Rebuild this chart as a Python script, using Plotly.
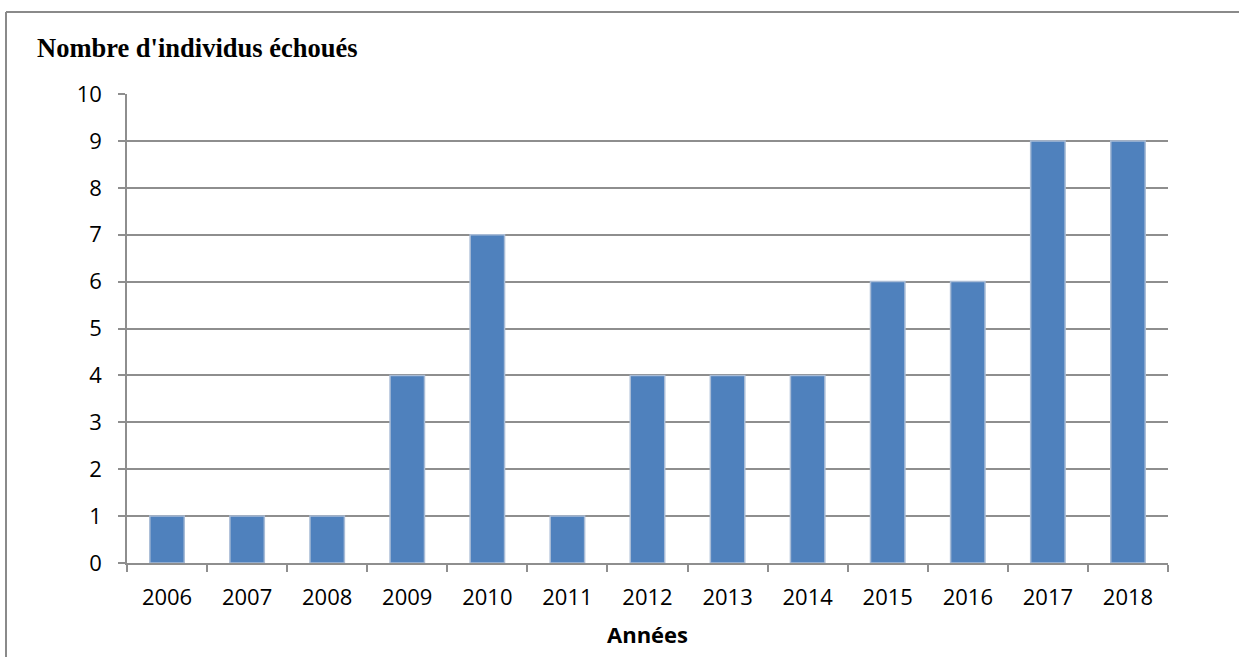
import plotly.graph_objects as go

# Stranded individuals per year
years = ["2006", "2007", "2008", "2009", "2010", "2011", "2012",
         "2013", "2014", "2015", "2016", "2017", "2018"]
counts = [1, 1, 1, 4, 7, 1, 4, 4, 4, 6, 6, 9, 9]

y_ticks = list(range(0, 11))

W, H = 1239, 657
L, R, T, B = 127, 1168, 94, 563  # plot area in pixels


def px_x(px):
    return (px - L) / (R - L)


def px_y(py):
    return (B - py) / (B - T)


grid = "#8e8e8e"
tick_font = dict(family="Open Sans", size=22, color="black")

fig = go.Figure(
    go.Bar(
        x=years,
        y=counts,
        marker=dict(color="#4F81BD", line=dict(color="#a9bcd6", width=1.5)),
        width=0.43,
    )
)

fig.update_layout(
    width=W,
    height=H,
    margin=dict(l=L, r=W - R, t=T, b=H - B),
    plot_bgcolor="white",
    paper_bgcolor="white",
    showlegend=False,
    xaxis=dict(
        type="category",
        showgrid=False,
        showline=True,
        linecolor=grid,
        linewidth=1.5,
        ticks="outside",
        tickson="boundaries",
        ticklen=7,
        tickwidth=1.5,
        tickcolor=grid,
        tickfont=tick_font,
        ticklabelstandoff=14,
        fixedrange=True,
    ),
    yaxis=dict(
        range=[0, 10],
        tickvals=y_ticks,
        showgrid=True,
        gridcolor=grid,
        gridwidth=1.5,
        showline=True,
        linecolor=grid,
        linewidth=1.5,
        ticks="outside",
        ticklen=7,
        tickwidth=1.5,
        tickcolor=grid,
        tickfont=tick_font,
        ticklabelstandoff=12,
        zeroline=False,
        fixedrange=True,
    ),
    annotations=[
        dict(
            text="<b>Nombre d'individus échoués</b>",
            xref="paper", yref="paper",
            x=px_x(35), y=px_y(48),
            xanchor="left", yanchor="middle",
            showarrow=False,
            font=dict(family="Liberation Serif", size=26.5, color="black"),
        ),
        dict(
            text="<b>Années</b>",
            xref="paper", yref="paper",
            x=0.5, y=px_y(634),
            xanchor="center", yanchor="middle",
            showarrow=False,
            font=dict(family="Open Sans", size=22, color="black"),
        ),
    ],
    shapes=[
        # chart frame: top and left edges, running off the page
        dict(type="line", xref="paper", yref="paper",
             x0=px_x(6), x1=px_x(W + 40), y0=px_y(12), y1=px_y(12),
             line=dict(color="#8a8a8a", width=2)),
        dict(type="line", xref="paper", yref="paper",
             x0=px_x(6), x1=px_x(6), y0=px_y(12), y1=px_y(H + 40),
             line=dict(color="#8a8a8a", width=2)),
    ],
)

fig.write_html("out.html", config={"displayModeBar": False})
